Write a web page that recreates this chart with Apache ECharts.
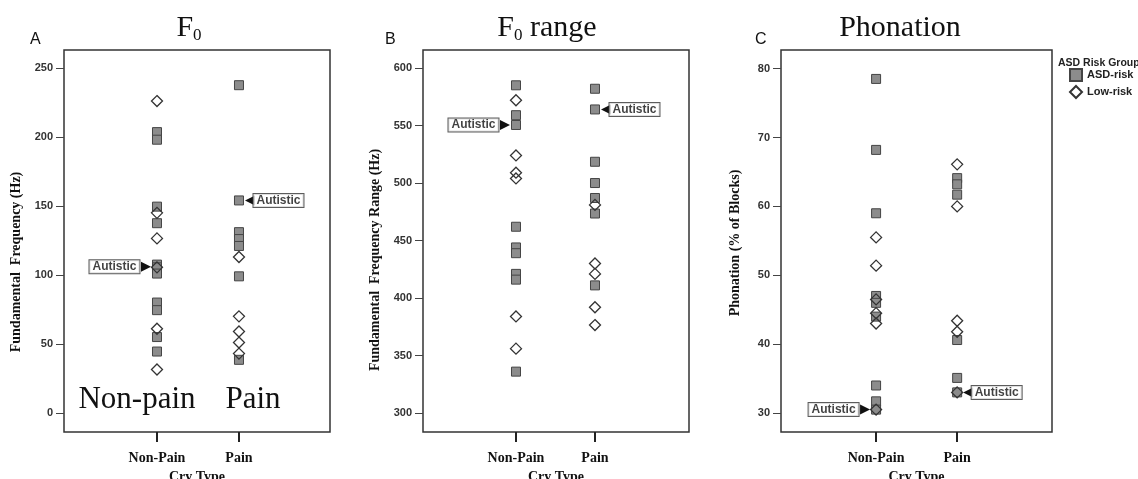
<!DOCTYPE html>
<html>
<head>
<meta http-equiv="Content-Type" content="text/html; charset=utf-8">
<title>Cry acoustics</title>
<script src="https://cdn.jsdelivr.net/npm/echarts@6.0.0/dist/echarts.min.js"></script>
<style>
	html, body { margin: 0; padding: 0; background: #fff; }
	#chart { width: 1138px; height: 479px; }
</style>
</head>
<body>
	<div id="chart"></div>
	<script type="text/javascript">

		// cry types on the x axis (1 = Non-Pain, 2 = Pain)
		var cryTypes = ['Non-Pain', 'Pain'];

		// A: F0 (Hz)
		var f0NonPainAsd = [203.5, 198, 149.5, 137.5, 107.5, 105.5, 101, 80, 74.5, 55, 44.5];
		var f0NonPainLow = [226, 145, 126.5, 105.5, 61, 31.5];
		var f0PainAsd = [237.5, 154, 131, 126, 121, 99, 38.5];
		var f0PainLow = [113, 70, 59, 51, 43];
		var f0Autistic = [106, 154];
		var f0Ticks = [0, 50, 100, 150, 200, 250];

		// B: F0 range (Hz)
		var rangeNonPainAsd = [585, 559, 550.5, 462, 444, 439, 421, 416, 336];
		var rangeNonPainLow = [572, 524, 509, 504, 384, 356];
		var rangePainAsd = [582, 564, 518.5, 500, 487, 473.5, 411];
		var rangePainLow = [481, 430, 421, 392, 376.5];
		var rangeAutistic = [550.5, 564];
		var rangeTicks = [300, 350, 400, 450, 500, 550, 600];

		// C: phonation (% of blocks)
		var phonNonPainAsd = [78.5, 68.2, 59, 47, 46, 44, 34, 31.7, 30.5];
		var phonNonPainLow = [55.5, 51.4, 46.5, 44.5, 43, 30.5];
		var phonPainAsd = [64.1, 63.2, 61.7, 40.6, 35.1, 33];
		var phonPainLow = [66.1, 60, 43.4, 41.8, 33];
		var phonAutistic = [30.5, 33];
		var phonTicks = [30, 40, 50, 60, 70, 80];

		var serif = "'Liberation Serif', 'Times New Roman', serif";
		var sans = "'Liberation Sans', Arial, sans-serif";

		var panels = [
			{ left: 64, width: 266, xMin: -0.134, xMax: 3.11, yMin: -13.8, yMax: 263, ticks: f0Ticks,
			  nonAsd: f0NonPainAsd, nonLow: f0NonPainLow, painAsd: f0PainAsd, painLow: f0PainLow, aut: f0Autistic },
			{ left: 423, width: 266, xMin: -0.177, xMax: 3.19, yMin: 283.5, yMax: 615.7, ticks: rangeTicks,
			  nonAsd: rangeNonPainAsd, nonLow: rangeNonPainLow, painAsd: rangePainAsd, painLow: rangePainLow, aut: rangeAutistic },
			{ left: 781, width: 271, xMin: -0.173, xMax: 3.17, yMin: 27.25, yMax: 82.7, ticks: phonTicks,
			  nonAsd: phonNonPainAsd, nonLow: phonNonPainLow, painAsd: phonPainAsd, painLow: phonPainLow, aut: phonAutistic }
		];

		function pts(x, arr) {
			return arr.map(function(v) { return [x, v]; });
		}

		var grids = [], xAxes = [], yAxes = [], series = [];
		panels.forEach(function(p, i) {
			grids.push({
				left: p.left, top: 50, width: p.width, height: 382,
				outerBoundsMode: 'none', containLabel: false,
				show: true, backgroundColor: '#fff', borderColor: '#333', borderWidth: 1.5
			});
			xAxes.push({
				gridIndex: i, type: 'value', min: p.xMin, max: p.xMax,
				name: 'Cry Type', nameLocation: 'middle', nameGap: 35,
				nameTextStyle: { fontFamily: serif, fontWeight: 'bold', fontSize: 14, color: '#111' },
				axisLine: { show: false, onZero: false },
				splitLine: { show: false },
				axisTick: { show: true, length: 10, customValues: [1, 2], lineStyle: { color: '#222', width: 2 } },
				axisLabel: {
					customValues: [1, 2], margin: 19,
					fontFamily: serif, fontWeight: 'bold', fontSize: 14, color: '#111',
					formatter: function(v) { return cryTypes[Math.round(v) - 1] || ''; }
				}
			});
			yAxes.push({
				gridIndex: i, type: 'value', min: p.yMin, max: p.yMax,
				axisLine: { show: false, onZero: false },
				splitLine: { show: false },
				axisTick: { show: true, length: 8, customValues: p.ticks, lineStyle: { color: '#444', width: 1 } },
				axisLabel: {
					customValues: p.ticks, margin: 11,
					fontFamily: sans, fontWeight: 'bold', fontSize: 11, color: '#333'
				}
			});
			series.push({
				name: 'ASD-risk', type: 'scatter', xAxisIndex: i, yAxisIndex: i, z: 2,
				symbol: 'rect', symbolSize: 9,
				itemStyle: { color: '#8c8c8c', borderColor: '#444', borderWidth: 1, opacity: 1 },
				data: pts(1, p.nonAsd).concat(pts(2, p.painAsd))
			});
			series.push({
				name: 'Low-risk', type: 'scatter', xAxisIndex: i, yAxisIndex: i, z: 3,
				symbol: 'diamond', symbolSize: 11,
				itemStyle: { color: 'rgba(255,255,255,0)', borderColor: '#333', borderWidth: 1.3, opacity: 1 },
				data: pts(1, p.nonLow).concat(pts(2, p.painLow))
			});
			// arrow heads for the autistic infant
			series.push({
				type: 'scatter', xAxisIndex: i, yAxisIndex: i, z: 4, silent: true,
				symbol: 'triangle', symbolSize: [10, 10],
				itemStyle: { color: '#111', opacity: 1 },
				data: [
					{ value: [1, p.aut[0]], symbolRotate: -90, symbolOffset: [-11, 0] },
					{ value: [2, p.aut[1]], symbolRotate: 90, symbolOffset: [11, 0] }
				]
			});
			// boxed labels
			series.push({
				type: 'scatter', xAxisIndex: i, yAxisIndex: i, z: 5, silent: true,
				symbol: 'rect', symbolSize: 1,
				itemStyle: { color: 'rgba(0,0,0,0)' },
				label: {
					show: true, formatter: 'Autistic',
					fontFamily: sans, fontWeight: 'bold', fontSize: 12, color: '#111',
					backgroundColor: '#fff', borderColor: '#333', borderWidth: 1, padding: [1, 3, 0, 3]
				},
				data: [
					{ value: [1, p.aut[0]], label: { position: 'left', distance: 17 } },
					{ value: [2, p.aut[1]], label: { position: 'right', distance: 14 } }
				]
			});
		});

		var option = {
			animation: false,
			backgroundColor: '#fff',
			title: [
				{ text: 'F{sub|0}', left: 184, top: 8, textAlign: 'center',
				  textStyle: { fontFamily: serif, fontWeight: 'normal', fontSize: 30, color: '#111',
					rich: { sub: { fontFamily: serif, fontSize: 17, color: '#111', verticalAlign: 'bottom', padding: [14, 0, 0, 0] } } } },
				{ text: 'F{sub|0} range', left: 542, top: 8, textAlign: 'center',
				  textStyle: { fontFamily: serif, fontWeight: 'normal', fontSize: 30, color: '#111',
					rich: { sub: { fontFamily: serif, fontSize: 17, color: '#111', verticalAlign: 'bottom', padding: [14, 0, 0, 0] } } } },
				{ text: 'Phonation', left: 895, top: 8, textAlign: 'center',
				  textStyle: { fontFamily: serif, fontWeight: 'normal', fontSize: 30, color: '#111' } },
				{ text: 'A', left: 25, top: 27, textStyle: { fontFamily: sans, fontWeight: 'normal', fontSize: 16, color: '#111' } },
				{ text: 'B', left: 380, top: 27, textStyle: { fontFamily: sans, fontWeight: 'normal', fontSize: 16, color: '#111' } },
				{ text: 'C', left: 750, top: 27, textStyle: { fontFamily: sans, fontWeight: 'normal', fontSize: 16, color: '#111' } },
				{ text: 'ASD Risk Group', left: 1053, top: 53, textStyle: { fontFamily: sans, fontWeight: 'bold', fontSize: 10.5, color: '#222' } }
			],
			legend: {
				left: 1069, top: 68, orient: 'vertical', padding: 0,
				itemWidth: 12, itemHeight: 12, itemGap: 3,
				textStyle: { fontFamily: sans, fontWeight: 'bold', fontSize: 11, color: '#222' },
				data: ['ASD-risk', 'Low-risk']
			},
			grid: grids,
			xAxis: xAxes,
			yAxis: yAxes,
			series: series,
			graphic: [
				{ type: 'text', x: 16, y: 262, rotation: Math.PI / 2,
				  style: { text: 'Fundamental  Frequency (Hz)', font: 'bold 14px ' + serif, fill: '#111', align: 'center', verticalAlign: 'middle' } },
				{ type: 'text', x: 375, y: 260, rotation: Math.PI / 2,
				  style: { text: 'Fundamental  Frequency Range (Hz)', font: 'bold 14px ' + serif, fill: '#111', align: 'center', verticalAlign: 'middle' } },
				{ type: 'text', x: 735, y: 243, rotation: Math.PI / 2,
				  style: { text: 'Phonation (% of Blocks)', font: 'bold 14px ' + serif, fill: '#111', align: 'center', verticalAlign: 'middle' } },
				{ type: 'text', x: 137, y: 400, z: 10,
				  style: { text: 'Non-pain', font: '31px ' + serif, fill: '#111', align: 'center', verticalAlign: 'middle' } },
				{ type: 'text', x: 253, y: 400, z: 10,
				  style: { text: 'Pain', font: '31px ' + serif, fill: '#111', align: 'center', verticalAlign: 'middle' } }
			]
		};

		var chart = echarts.init(document.getElementById('chart'));
		chart.setOption(option);
	</script>
</body>
</html>
